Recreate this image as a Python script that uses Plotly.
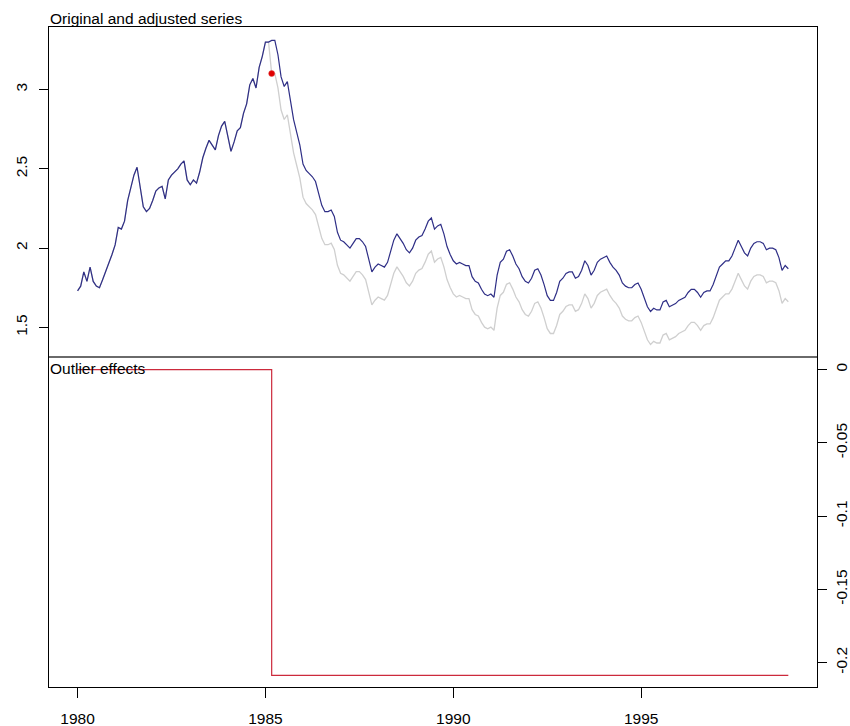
import plotly.graph_objects as go

# Monthly series starting January 1980 (outlier-adjusted values)
start_year = 1980
adjusted = [
    1.73, 1.76, 1.85, 1.79, 1.88, 1.79, 1.76, 1.75, 1.80, 1.85, 1.91, 1.96,
    2.02, 2.13, 2.12, 2.17, 2.30, 2.39, 2.46, 2.51, 2.37, 2.26, 2.23, 2.25,
    2.30, 2.36, 2.38, 2.39, 2.31, 2.43, 2.46, 2.48, 2.50, 2.53, 2.55, 2.43,
    2.40, 2.43, 2.41, 2.48, 2.57, 2.63, 2.68, 2.65, 2.62, 2.71, 2.77, 2.80,
    2.71, 2.61, 2.67, 2.74, 2.76, 2.85, 2.91, 3.03, 3.07, 3.01, 3.14, 3.21,
    3.30, 3.30, 3.31, 3.31, 3.22, 3.08, 3.02, 3.05, 2.93, 2.81, 2.73, 2.65,
    2.53, 2.49, 2.47, 2.45, 2.42, 2.34, 2.27, 2.23, 2.23, 2.24, 2.20, 2.10,
    2.05, 2.04, 2.02, 2.00, 2.03, 2.06, 2.06, 2.04, 2.01, 1.93, 1.85, 1.88,
    1.90, 1.89, 1.88, 1.91, 1.98, 2.05, 2.09, 2.06, 2.03, 1.99, 1.97, 2.00,
    2.05, 2.07, 2.08, 2.12, 2.17, 2.19, 2.12, 2.14, 2.15, 2.09, 2.01, 1.96,
    1.92, 1.90, 1.91, 1.90, 1.89, 1.89, 1.82, 1.79, 1.78, 1.74, 1.71, 1.70,
    1.71, 1.69, 1.83, 1.91, 1.93, 1.98, 1.99, 1.95, 1.90, 1.87, 1.82, 1.79,
    1.78, 1.81, 1.86, 1.87, 1.83, 1.77, 1.70, 1.67, 1.67, 1.72, 1.79, 1.81,
    1.84, 1.85, 1.85, 1.81, 1.82, 1.86, 1.92, 1.89, 1.83, 1.86, 1.91, 1.93,
    1.94, 1.95, 1.91, 1.88, 1.86, 1.83, 1.78, 1.76, 1.75, 1.75, 1.77, 1.78,
    1.74, 1.68, 1.63, 1.60, 1.62, 1.61, 1.61, 1.66, 1.67, 1.63, 1.64, 1.65,
    1.67, 1.68, 1.69, 1.72, 1.74, 1.74, 1.72, 1.69, 1.72, 1.73, 1.73, 1.77,
    1.83, 1.88, 1.90, 1.92, 1.92, 1.95, 2.00, 2.05, 2.01, 1.97, 1.95, 2.00,
    2.03, 2.04, 2.04, 2.03, 1.99, 2.00, 2.00, 1.99, 1.94, 1.86, 1.89, 1.87,
]

# Level shift detected at 1985:03
ls_index = 62
ls_effect = -0.2086

x_ticks = [1980, 1985, 1990, 1995]
top_ticks = [1.5, 2, 2.5, 3]
top_tick_text = ["1.5", "2", "2.5", "3"]
bottom_ticks = [0, -0.05, -0.1, -0.15, -0.2]
bottom_tick_text = ["0", "-0.05", "-0.1", "-0.15", "-0.2"]

n = len(adjusted)
time = [start_year + i / 12 for i in range(n)]
effects = [0.0 if i < ls_index else ls_effect for i in range(n)]
original = [a + e for a, e in zip(adjusted, effects)]

FONT = "Liberation Sans, Arial, sans-serif"
FS = 15.5

fig = go.Figure()

# Top panel: original (grey) and adjusted (blue) series
fig.add_trace(go.Scatter(x=time, y=original, mode="lines",
                         line=dict(color="#cfcfcf", width=1.3),
                         xaxis="x2", yaxis="y2", showlegend=False))
fig.add_trace(go.Scatter(x=time, y=adjusted, mode="lines",
                         line=dict(color="#2e2e86", width=1.2),
                         xaxis="x2", yaxis="y2", showlegend=False))
fig.add_trace(go.Scatter(x=[time[ls_index]], y=[original[ls_index]], mode="markers",
                         marker=dict(color="#e00000", size=6,
                                     line=dict(color="#e04040", width=0.5)),
                         xaxis="x2", yaxis="y2", showlegend=False))

# Bottom panel: outlier effects as a step function
fig.add_trace(go.Scatter(x=time, y=effects, mode="lines", line_shape="hv",
                         line=dict(color="#cc2a3c", width=1.2),
                         xaxis="x", yaxis="y", showlegend=False))

axis_common = dict(showgrid=False, zeroline=False, showline=True, mirror=True,
                   linecolor="black", linewidth=1, automargin=False,
                   tickfont=dict(family=FONT, size=FS, color="black"))

fig.update_layout(
    width=850, height=726,
    margin=dict(l=49, r=33, t=27, b=39),
    paper_bgcolor="white", plot_bgcolor="white",
    xaxis=dict(domain=[0, 1], anchor="y", range=[1979.24, 1999.68],
               tickvals=x_ticks, ticks="outside", ticklen=10, tickcolor="black",
               ticklabelstandoff=7, **axis_common),
    yaxis=dict(domain=[0, 0.5], anchor="x", side="right",
               range=[-0.2166, 0.0086], tickvals=bottom_ticks, ticktext=bottom_tick_text,
               tickangle=-90, ticks="outside", ticklen=9, tickcolor="black",
               ticklabelstandoff=1, **axis_common),
    xaxis2=dict(domain=[0, 1], anchor="y2", matches="x", range=[1979.24, 1999.68],
                showticklabels=False, ticks="", **axis_common),
    yaxis2=dict(domain=[0.5, 1], anchor="x2", side="left",
                range=[1.313, 3.395], tickvals=top_ticks, ticktext=top_tick_text,
                tickangle=-90, ticks="outside", ticklen=9, tickcolor="black",
                ticklabelstandoff=6, **axis_common),
    shapes=[dict(type="line", xref="paper", yref="paper", x0=0, x1=1, y0=0.5, y1=0.5,
                 line=dict(color="#6a6a6a", width=2), layer="above")],
    annotations=[
        dict(text="Original and adjusted series", xref="paper", yref="paper",
             x=0, y=1, xanchor="left", yanchor="bottom", showarrow=False,
             font=dict(family=FONT, size=FS, color="black"), xshift=-1, yshift=-2),
        dict(text="Outlier effects", xref="paper", yref="paper",
             x=0, y=0.5, xanchor="left", yanchor="top", showarrow=False,
             font=dict(family=FONT, size=FS, color="black"), xshift=-1, yshift=-1),
    ],
)

fig.write_html("out.html")
